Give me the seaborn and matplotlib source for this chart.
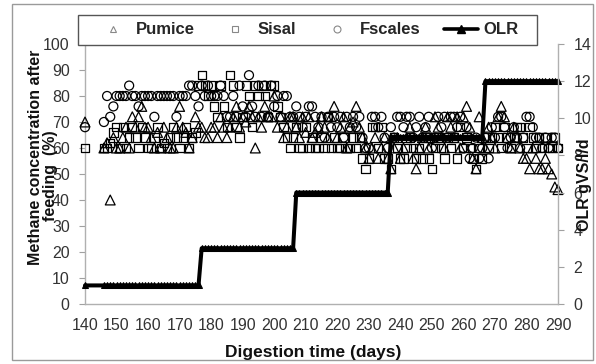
import matplotlib
matplotlib.use("Agg")
import matplotlib.pyplot as plt
from matplotlib.lines import Line2D
from matplotlib.patches import Rectangle
import seaborn as sns
import pandas as pd

# ---------------- data ----------------
days = [140] + list(range(146, 291))

pumice = [70,
          60, 62, 40, 64, 60, 60, 64, 68, 60, 72,
          68, 72, 76, 68, 68, 64, 60, 66, 60, 68,
          64, 60, 60, 68, 76, 68, 66, 60, 64, 72,
          68, 68, 64, 64, 68, 68, 64, 72, 68, 64,
          68, 72, 76, 68, 72, 70, 76, 72, 60, 72,
          68, 76, 72, 72, 80, 68, 72, 64, 68, 72,
          72, 68, 64, 72, 66, 72, 64, 66, 68, 72,
          68, 64, 72, 76, 64, 68, 72, 60, 68, 70,
          76, 68, 64, 60, 56, 60, 64, 56, 60, 64,
          56, 52, 60, 64, 56, 60, 64, 68, 56, 52,
          60, 64, 68, 60, 64, 72, 68, 64, 60, 72,
          68, 64, 72, 60, 72, 76, 68, 56, 52, 72,
          64, 60, 68, 64, 60, 72, 76, 72, 64, 60,
          68, 64, 60, 56, 56, 52, 60, 56, 52, 52,
          56, 52, 50, 45, 44]

sisal = [60,
         60, 60, 62, 66, 68, 60, 68, 60, 64, 68,
         64, 60, 68, 64, 60, 60, 64, 68, 60, 62,
         60, 64, 68, 64, 60, 64, 68, 60, 64, 66,
         84, 88, 84, 80, 84, 76, 72, 84, 76, 68,
         88, 84, 68, 64, 72, 84, 80, 68, 84, 80,
         84, 80, 72, 84, 84, 76, 72, 68, 64, 60,
         64, 68, 60, 60, 68, 60, 64, 60, 60, 64,
         60, 72, 60, 64, 60, 60, 64, 60, 60, 64,
         60, 64, 56, 52, 56, 68, 68, 60, 68, 56,
         56, 52, 64, 60, 56, 56, 60, 64, 60, 56,
         60, 56, 64, 56, 52, 60, 64, 60, 56, 64,
         60, 64, 56, 68, 60, 64, 60, 56, 52, 60,
         56, 64, 60, 64, 68, 64, 60, 68, 64, 60,
         64, 68, 68, 64, 60, 68, 64, 60, 64, 60,
         64, 60, 60, 64, 60]

fscales = [68,
           70, 80, 72, 76, 80, 80, 80, 80, 84, 80,
           80, 76, 80, 80, 80, 80, 72, 80, 80, 80,
           80, 80, 80, 72, 80, 80, 80, 84, 84, 80,
           76, 84, 80, 84, 80, 80, 80, 84, 80, 72,
           72, 80, 72, 84, 76, 72, 88, 76, 72, 84,
           72, 84, 72, 84, 76, 80, 72, 80, 80, 72,
           72, 76, 72, 68, 72, 76, 76, 72, 68, 72,
           64, 72, 68, 72, 68, 72, 64, 72, 68, 72,
           68, 72, 64, 60, 60, 72, 72, 68, 72, 64,
           60, 68, 64, 72, 72, 68, 72, 72, 64, 68,
           72, 64, 68, 72, 60, 64, 72, 68, 72, 64,
           72, 72, 68, 72, 60, 68, 56, 60, 64, 56,
           60, 64, 56, 68, 64, 72, 72, 68, 60, 64,
           68, 64, 60, 64, 72, 72, 68, 64, 64, 60,
           64, 60, 64, 64, 60]

olr = [1, 1, 1, 1, 1, 1, 1, 1, 1, 1, 1, 1, 1, 1, 1, 1,
       1, 1, 1, 1, 1, 1, 1, 1, 1, 1, 1, 1, 1, 1, 1, 1,
       3, 3, 3, 3, 3, 3, 3, 3, 3, 3, 3, 3, 3, 3, 3,
       3, 3, 3, 3, 3, 3, 3, 3, 3, 3, 3, 3, 3, 3, 3,
       6, 6, 6, 6, 6, 6, 6, 6, 6, 6, 6, 6, 6, 6, 6,
       6, 6, 6, 6, 6, 6, 6, 6, 6, 6, 6, 6, 6, 6, 6,
       9, 9, 9, 9, 9, 9, 9, 9, 9, 9, 9, 9, 9, 9, 9,
       9, 9, 9, 9, 9, 9, 9, 9, 9, 9, 9, 9, 9, 9, 9,
       12, 12, 12, 12, 12, 12, 12, 12, 12, 12, 12, 12,
       12, 12, 12, 12, 12, 12, 12, 12, 12, 12, 12, 12]

x_ticks = list(range(140, 291, 10))
y_ticks = list(range(0, 101, 10))
y2_ticks = list(range(0, 15, 2))

df = pd.DataFrame({"day": days, "Pumice": pumice, "Sisal": sisal,
                   "Fscales": fscales, "OLR": olr})

# ---------------- style ----------------
sns.set_theme(style="white")
plt.rcParams["font.family"] = ["Liberation Sans", "DejaVu Sans"]

W, H = 596, 364
fig = plt.figure(figsize=(W / 100, H / 100), dpi=100)
L, R, T, B = 85, 558, 44, 304
ax = fig.add_axes([L / W, 1 - B / H, (R - L) / W, (B - T) / H])
ax2 = ax.twinx()

tickcol = "#333333"

common = dict(ax=ax, edgecolor="black", facecolor="none", linewidth=0.9,
              clip_on=False, legend=False, zorder=3)
sns.scatterplot(data=df, x="day", y="Pumice", marker="^", s=50, **common)
sns.scatterplot(data=df, x="day", y="Sisal", marker="s", s=36, **common)
sns.scatterplot(data=df, x="day", y="Fscales", marker="o", s=42, **common)

sns.lineplot(data=df, x="day", y="OLR", ax=ax2, color="black", linewidth=2.9,
             marker="^", markersize=5, markeredgecolor="black", legend=False,
             clip_on=False)

ax.set_xlim(140, 290)
ax.set_ylim(0, 100)
ax2.set_ylim(0, 14)
ax.set_xticks(x_ticks)
ax.set_yticks(y_ticks)
ax2.set_yticks(y2_ticks)

for a in (ax, ax2):
    a.spines["top"].set_visible(False)
    for side in ("left", "bottom", "right"):
        a.spines[side].set_color("#b0b0b0")
        a.spines[side].set_linewidth(1.0)
    a.tick_params(direction="out", length=4, width=0.8, color="#a0a0a0",
                  labelsize=11.5, labelcolor=tickcol, pad=7)
ax.spines["right"].set_visible(False)
ax2.spines["left"].set_visible(False)
ax2.spines["bottom"].set_visible(False)
ax.tick_params(axis="x", pad=6)
ax.set_ylabel("")
ax2.set_ylabel("")
ax.set_xlabel("")

fig.text(313 / W, 1 - 352 / H, "Digestion time (days)", ha="center",
         va="center", fontsize=12.5, fontweight="bold", color="#111111")

# y labels (overlapping tick labels as in the reference)
fig.text(36 / W, 1 - 157 / H, "Methane concentration after", rotation=90,
         ha="center", va="center", fontsize=11.5, fontweight="bold",
         color="#111111")
fig.text(50 / W, 1 - 176 / H, "feeding  (%)", rotation=90,
         ha="center", va="center", fontsize=11.5, fontweight="bold",
         color="#111111")
fig.text(584 / W, 1 - 185 / H, "OLR gVS/l/d", rotation=90,
         ha="center", va="center", fontsize=11.5, fontweight="bold",
         color="#111111")

# legend
handles = [
    Line2D([], [], ls="none", marker="^", markersize=5, mfc="none",
           mec="#888888", mew=0.8),
    Line2D([], [], ls="none", marker="s", markersize=5, mfc="none",
           mec="#888888", mew=0.8),
    Line2D([], [], ls="none", marker="o", markersize=5, mfc="none",
           mec="#888888", mew=0.8),
    Line2D([], [], color="black", lw=2.6, marker="^", markersize=6),
]
leg = fig.legend(handles, ["Pumice", "Sisal", "Fscales", "OLR"], ncol=4,
                 loc="center",
                 bbox_to_anchor=(78 / W, 1 - 45 / H, 459 / W, 30 / H),
                 frameon=True, fancybox=False, borderaxespad=0,
                 borderpad=0.3,
                 handlelength=2.0, handletextpad=0.35, columnspacing=1.45,
                 prop={"weight": "bold", "size": 12})
leg.get_frame().set_edgecolor("#555555")
leg.get_frame().set_linewidth(1.0)
leg.get_frame().set_facecolor("white")
leg.set_zorder(10)

# fixed frame matching the reference legend box
fig.patches.append(Rectangle((78 / W, 1 - 45 / H), 459 / W, 30 / H,
                             transform=fig.transFigure, fill=False,
                             edgecolor="#555555", linewidth=1.0, zorder=11))
leg.get_frame().set_visible(False)
fig.patches.insert(0, Rectangle((78 / W, 1 - 45 / H), 459 / W, 30 / H,
                                transform=fig.transFigure, fill=True,
                                facecolor="white", edgecolor="none"))

# outer chart frame
fig.patches.append(Rectangle((12 / W, 1 - 360 / H), (593 - 12) / W,
                             (360 - 4) / H, transform=fig.transFigure,
                             fill=False, edgecolor="#9a9a9a", linewidth=1.0))

fig.savefig("out.png", dpi=100)
